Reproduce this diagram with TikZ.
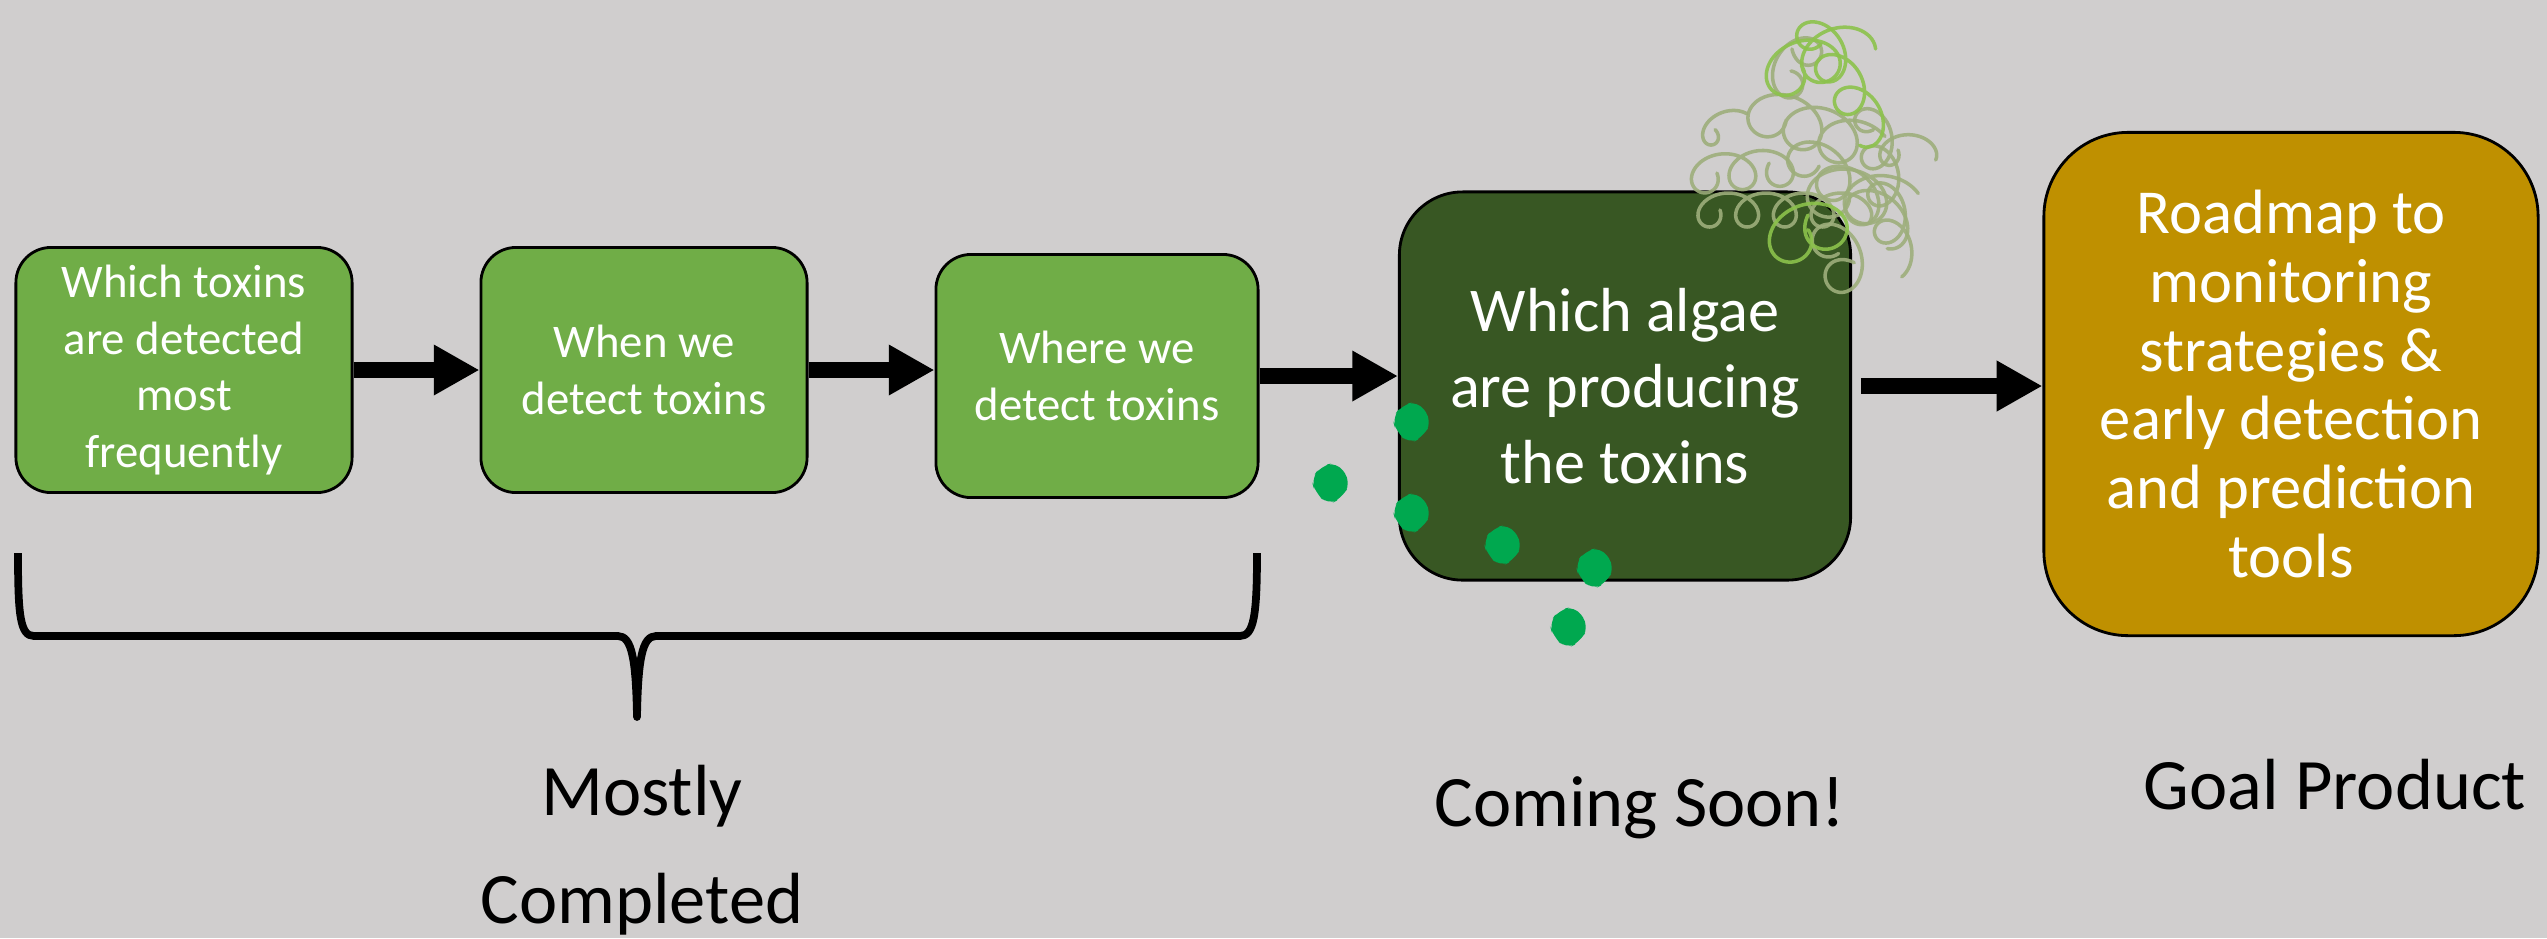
\documentclass[tikz,border=0pt]{standalone}
\usepackage{fontspec}
\setmainfont{Carlito}
\usetikzlibrary{arrows.meta}

\definecolor{bggray}{HTML}{D0CECE}
\definecolor{leafgreen}{HTML}{70AD47}
\definecolor{mossgreen}{HTML}{385723}
\definecolor{goldbox}{HTML}{BF9000}
\definecolor{cellgreen}{HTML}{00A84F}
\definecolor{threadsage}{HTML}{9DAE7B}
\definecolor{threadlime}{HTML}{8CC24C}

\begin{document}
\begin{tikzpicture}[x=0.01cm,y=-0.01cm,
  stage/.style={draw=black,line width=0.8pt,text=white,align=center,inner sep=0pt},
  early/.style={stage,fill=leafgreen,rounded corners=10pt,minimum height=2.45cm,font=\fontsize{13.3}{16.2}\selectfont},
  flow/.style={line width=4.5pt,-{Triangle[length=13pt,width=13.5pt]}},
  caption/.style={align=center,font=\fontsize{20.6}{30.7}\selectfont},
  thread/.style={line width=1pt,line cap=round,opacity=0.9}]

\fill[bggray] (0,0) rectangle (2547,938);
\useasboundingbox (0,0) rectangle (2547,938);

\node[early,minimum width=3.36cm] (toxins) at (184,370) {Which toxins\\are detected\\most\\frequently};
\node[early,minimum width=3.26cm] (when) at (644,370) {When we\\detect toxins};
\node[early,minimum width=3.22cm,minimum height=2.43cm] (where) at (1097,376) {Where we\\detect toxins};
\node[stage,fill=mossgreen,rounded corners=18pt,minimum width=4.51cm,minimum height=3.88cm,font=\fontsize{17.7}{21.7}\selectfont] (algae) at (1625,386) {Which algae\\are producing\\the toxins};
\node[stage,fill=goldbox,rounded corners=24pt,minimum width=4.94cm,minimum height=5.03cm,font=\fontsize{17.8}{19.6}\selectfont] (roadmap) at (2291,384) {Roadmap to\\monitoring\\strategies \&\\early detection\\and prediction\\tools};

\draw[flow] (toxins.east) -- (when.west);
\draw[flow] (when.east) -- (where.west |- when.east);
\draw[flow] (where.east) -- (algae.west |- where.east);
\draw[flow,shorten <=2.5pt] (algae.east) -- (roadmap.west |- algae.east);

\coordinate (bl) at (18,553);
\coordinate (br) at (1257,553);
\coordinate (tip) at (637,717);
\draw[line width=2.2pt,line join=round] (bl) .. controls (18,615) and (20,636) .. (34,636) -- (618,636)
  .. controls (632,636) and (636,660) .. (tip) .. controls (638,660) and (642,636) .. (656,636)
  -- (1240,636) .. controls (1254,636) and (1257,615) .. (br);

\foreach \x/\y in {1412/422,1331/483,1412/513,1503/545,1595/568,1569/627}
{
\fill[cellgreen,rounded corners=3pt,shift={(\x,\y)}] (-20,-4) -- (-10,-17) -- (6,-21) -- (20,-1) -- (11,15) -- (-3,22) -- (-16,9) -- cycle;
}

\foreach \sx/\sy/\rot/\len/\rad/\col in {1695/175/5/16/22/threadsage,1700/210/0/26/20/threadsage,
  1760/110/-20/18/28/threadsage,1870/110/-80/25/20/threadsage,1800/150/-40/20/25/threadsage,
  1830/230/-70/10/25/threadsage,1880/150/0/7/18/threadsage,1780/90/60/10/22/threadsage,
  1700/135/20/6/16/threadsage,1820/190/-10/12/30/threadsage,1775/75/20/13/28/threadlime,
  1810/25/-60/20/22/threadlime,1780/240/20/10/30/threadlime}
{
\draw[thread,\col,shift={(\sx,\sy)},rotate=\rot] plot[domain=0:\len,samples=150,smooth,variable=\t] ({6*\t+\rad*cos(\t r)},{0.85*\rad*sin(\t r)});
}

\node[caption,anchor=base] (mostly) at (642,923) {Mostly\\Completed};
\node[caption,anchor=base] (soon) at (1640,826) {Coming Soon!};
\node[caption,anchor=base] (goal) at (2335,809) {Goal Product};
\end{tikzpicture}
\end{document}
